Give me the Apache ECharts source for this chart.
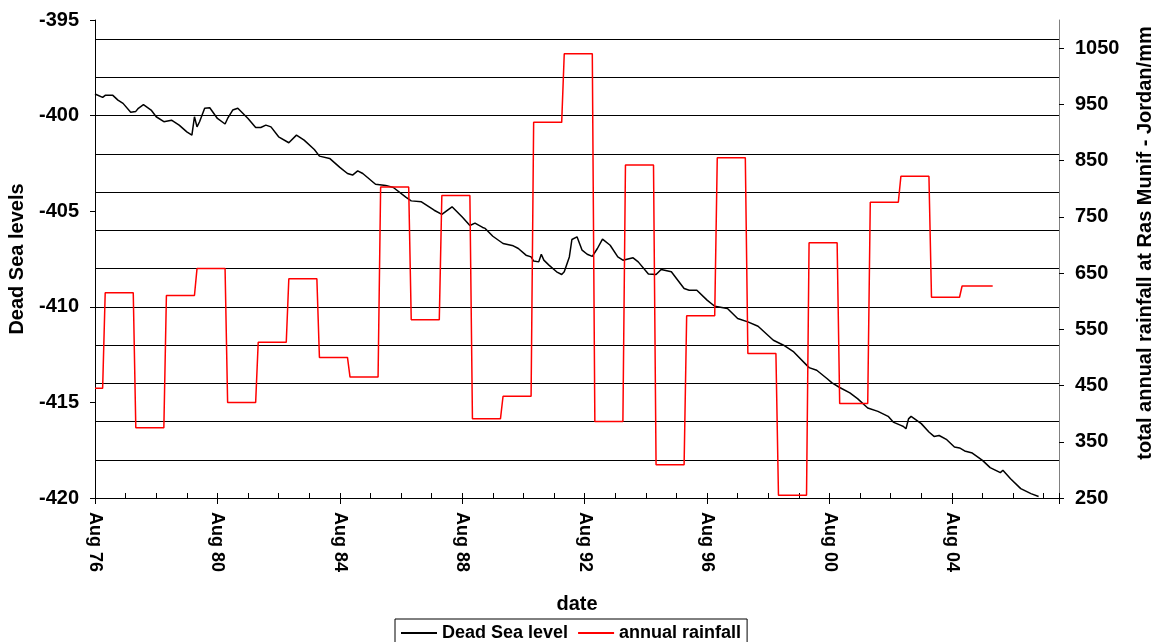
<!DOCTYPE html>
<html lang="en">
  <head>
    <meta charset="UTF-8" />
    <title>Dead Sea level and annual rainfall</title>
    <style>
      html, body {
        margin: 0;
        padding: 0;
        width: 100%;
        height: 100%;
        overflow: hidden;
        background: #fff;
      }
      #chart {
        width: 100%;
        height: 100%;
      }
    </style>
    <script src="https://cdn.jsdelivr.net/npm/echarts@6/dist/echarts.min.js"></script>
  </head>
  <body>
    <div id="chart"></div>
    <script>
      // x values are months counted from Aug 1976
      const levelMonth = [
        0, 3, 4, 7, 9, 11, 14, 16, 17, 19, 22, 24, 27, 30, 33, 36, 38, 39, 40, 41,
        43, 45, 48, 51, 52, 54, 56, 60, 63, 65, 67, 69, 72, 76, 79, 82, 86, 88, 92, 96,
        99, 101, 103, 105, 110, 114, 117, 122, 124, 128, 133, 136, 140, 144, 147, 149, 152, 153, 156, 160,
        164, 166, 169, 171, 172, 174, 175, 176, 178, 181, 183, 184, 186, 187, 189, 191, 193, 195, 197, 199,
        202, 205, 207, 211, 213, 217, 220, 222, 226, 228, 231, 233, 236, 240, 243, 248, 252, 256, 260, 266,
        270, 274, 280, 283, 287, 289, 292, 296, 299, 303, 307, 311, 313, 316, 317, 318, 319, 320, 324, 327,
        329, 331, 334, 337, 339, 341, 344, 348, 351, 355, 356, 359, 363, 367, 370
      ];
      const seaLevel = [
        -398.87, -399.05, -398.94, -398.94, -399.19, -399.36, -399.83, -399.78, -399.62, -399.43,
        -399.71, -400.06, -400.32, -400.24, -400.50, -400.85, -401.02, -400.06, -400.59, -400.32,
        -399.62, -399.59, -400.15, -400.44, -400.15, -399.71, -399.62, -400.15, -400.62, -400.62,
        -400.50, -400.59, -401.11, -401.42, -401.02, -401.28, -401.77, -402.12, -402.24, -402.71,
        -403.03, -403.11, -402.89, -403.03, -403.59, -403.65, -403.76, -404.28, -404.46, -404.51,
        -404.95, -405.17, -404.77, -405.30, -405.75, -405.62, -405.85, -405.90, -406.31, -406.69,
        -406.81, -406.95, -407.30, -407.39, -407.61, -407.65, -407.25, -407.56, -407.82, -408.17,
        -408.31, -408.17, -407.39, -406.48, -406.34, -407.04, -407.25, -407.36, -406.95, -406.46,
        -406.78, -407.39, -407.56, -407.44, -407.65, -408.29, -408.31, -408.05, -408.17, -408.52,
        -409.04, -409.13, -409.13, -409.65, -409.97, -410.09, -410.61, -410.79, -411.02, -411.75,
        -412.01, -412.36, -413.18, -413.32, -413.75, -413.98, -414.22, -414.50, -414.80, -415.29,
        -415.47, -415.73, -416.03, -416.20, -416.26, -416.38, -415.86, -415.73, -416.11, -416.55,
        -416.78, -416.73, -416.95, -417.33, -417.38, -417.54, -417.65, -418.03, -418.41, -418.67,
        -418.55, -418.99, -419.51, -419.77, -419.92
      ];

      // first month of each rainfall year, and the month the last one ends
      const rainStart = [
        0, 4, 16, 28, 40, 52, 64, 76, 88, 100, 112, 124, 136, 148, 160,
        172, 184, 196, 208, 220, 232, 244, 256, 268, 280, 292, 304, 316, 328, 340
      ];
      const rainLastMonth = 352;
      const rainfall = [
        445, 615, 375, 610, 658, 420, 527, 640, 500, 465, 803, 567, 788, 391, 431,
        918, 1040, 386, 842, 309, 574, 855, 507, 255, 704, 418, 776, 822, 607, 627
      ];

      const rainTicks = [250, 350, 450, 550, 650, 750, 850, 950, 1050];
      const yearLabelMonths = [0, 48, 96, 144, 192, 240, 288, 336];

      // monthly step line: each year's value holds until the month before the next year
      const rainData = [];
      rainfall.forEach(function (v, i) {
        const end = i < rainStart.length - 1 ? rainStart[i + 1] - 1 : rainLastMonth;
        rainData.push([rainStart[i], v]);
        rainData.push([end, v]);
      });
      const levelData = levelMonth.map(function (m, i) { return [m, seaLevel[i]]; });

      const font = 'Liberation Sans, Arial, sans-serif';
      const bold = { color: '#000', fontFamily: font, fontWeight: 'bold', fontSize: 18 };
      const boldBig = { ...bold, fontSize: 20 };

      const chart = echarts.init(document.getElementById('chart'));

      chart.setOption({
        animation: false,
        backgroundColor: '#fff',
        grid: { left: 95, right: 92, top: 20, bottom: 144, containLabel: false, outerBoundsMode: 'none' },
        legend: {
          data: ['Dead Sea level', 'annual rainfall'],
          left: 395,
          top: 619,
          icon: 'rect',
          itemWidth: 36,
          itemHeight: 2,
          itemGap: 10,
          padding: [5, 6, 5, 6],
          borderColor: '#000',
          borderWidth: 1,
          borderRadius: 0,
          textStyle: bold
        },
        xAxis: [
          {
            type: 'value',
            min: 0,
            max: 378,
            interval: 12,
            name: 'date',
            nameLocation: 'middle',
            nameGap: 96,
            nameTextStyle: boldBig,
            axisLine: { show: true, onZero: false, lineStyle: { color: '#000', width: 1 } },
            axisTick: { show: true, inside: true, length: 5, lineStyle: { color: '#000' } },
            axisLabel: {
              rotate: -90,
              margin: 14,
              ...bold,
              formatter: function (m) {
                if (yearLabelMonths.indexOf(m) < 0) return '';
                const yr = (1976 + m / 12) % 100;
                return 'Aug ' + (yr < 10 ? '0' + yr : yr);
              }
            },
            splitLine: { show: false }
          },
          {
            type: 'value',
            min: 0,
            max: 378,
            interval: 48,
            position: 'bottom',
            axisLine: { show: false, onZero: false },
            axisTick: { show: true, length: 6, lineStyle: { color: '#000' } },
            axisLabel: { show: false },
            splitLine: { show: false }
          }
        ],
        yAxis: [
          {
            type: 'value',
            min: -420,
            max: -395,
            interval: 5,
            position: 'left',
            name: 'Dead Sea levels',
            nameLocation: 'middle',
            nameRotate: 90,
            nameGap: 68,
            nameTextStyle: boldBig,
            axisLine: { show: true, onZero: false, lineStyle: { color: '#000', width: 1 } },
            axisTick: { show: true, length: 5, lineStyle: { color: '#000' } },
            axisLabel: { margin: 16, ...boldBig },
            splitLine: { show: false }
          },
          {
            type: 'value',
            min: 250,
            max: 1100,
            interval: 100,
            position: 'right',
            name: 'total annual rainfall at Ras Munif - Jordan/mm',
            nameLocation: 'middle',
            nameRotate: 90,
            nameGap: 76,
            nameTextStyle: { ...boldBig, padding: [0, 0, 0, 32] },
            axisLine: { show: true, onZero: false, lineStyle: { color: '#808080', width: 1 } },
            axisTick: { show: true, length: 5, customValues: rainTicks, lineStyle: { color: '#000' } },
            axisLabel: {
              margin: 16,
              showMaxLabel: false,
              ...boldBig,
              formatter: function (v) { return String(v); }
            },
            splitLine: { show: false }
          },
          {
            // gridlines every 2 m on the level scale
            type: 'value',
            min: -420,
            max: -395,
            interval: 2,
            position: 'left',
            axisLine: { show: false, onZero: false },
            axisTick: { show: false },
            axisLabel: { show: false },
            splitLine: {
              show: true,
              showMinLine: false,
              showMaxLine: false,
              lineStyle: { color: '#000', width: 1 }
            }
          }
        ],
        series: [
          {
            name: 'Dead Sea level',
            type: 'line',
            xAxisIndex: 0,
            yAxisIndex: 0,
            data: levelData,
            symbol: 'none',
            itemStyle: { color: '#000' },
            lineStyle: { color: '#000', width: 1.5 },
            z: 3
          },
          {
            name: 'annual rainfall',
            type: 'line',
            xAxisIndex: 0,
            yAxisIndex: 1,
            data: rainData,
            symbol: 'none',
            itemStyle: { color: '#ff0000' },
            lineStyle: { color: '#ff0000', width: 1.5 },
            z: 4
          }
        ]
      });
    </script>
  </body>
</html>
